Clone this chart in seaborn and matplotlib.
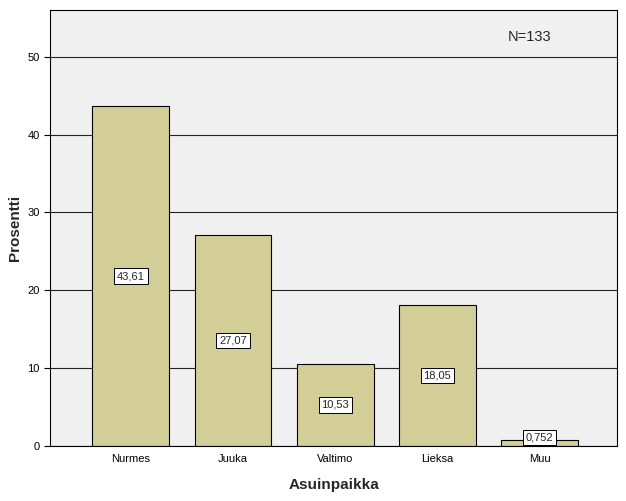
import matplotlib
matplotlib.use("Agg")
import matplotlib.pyplot as plt
import seaborn as sns
import pandas as pd

places = ["Nurmes", "Juuka", "Valtimo", "Lieksa", "Muu"]
percents = [43.61, 27.07, 10.53, 18.05, 0.752]
labels = ["43,61", "27,07", "10,53", "18,05", "0,752"]

sns.set_style("white")
plt.rcParams['font.family'] = ['Arial', 'Liberation Sans', 'DejaVu Sans']

df = pd.DataFrame({"place": places, "pct": percents})

fig = plt.figure(figsize=(6.26, 5.01), dpi=100)
ax = fig.add_axes([0.08, 0.11, 0.906, 0.87])
ax.set_facecolor("#f0f0f0")
ax.set_axisbelow(True)
ax.yaxis.grid(True, color="#222222", linewidth=0.8)

sns.barplot(data=df, x="place", y="pct", color="#d3ce97", saturation=1,
            width=0.75, edgecolor="black", linewidth=0.8, ax=ax)

for i, (v, t) in enumerate(zip(percents, labels)):
    ax.text(i, v / 2 if v > 2 else v + 0.3, t, ha="center", va="center", fontsize=8,
            bbox=dict(boxstyle="square,pad=0.25", fc="white", ec="black", lw=0.7))

ax.text(3.9, 52.5, "N=133", fontsize=10.5, ha="center", va="center")

ax.set_xlim(-0.79, 4.76)
ax.set_ylim(0, 56)
ax.set_yticks([0, 10, 20, 30, 40, 50])
ax.tick_params(axis="y", left=True, labelsize=8, length=4, width=0.8,
               direction="out", color="black", labelcolor="black")
ax.tick_params(axis="x", length=0, labelsize=8, labelcolor="black", pad=6)
ax.set_xlabel("Asuinpaikka", fontsize=11, fontweight="bold", labelpad=10)
ax.set_ylabel("Prosentti", fontsize=11, fontweight="bold")
for s in ax.spines.values():
    s.set_color("black")
    s.set_linewidth(0.8)

fig.savefig("out.png", dpi=100)
